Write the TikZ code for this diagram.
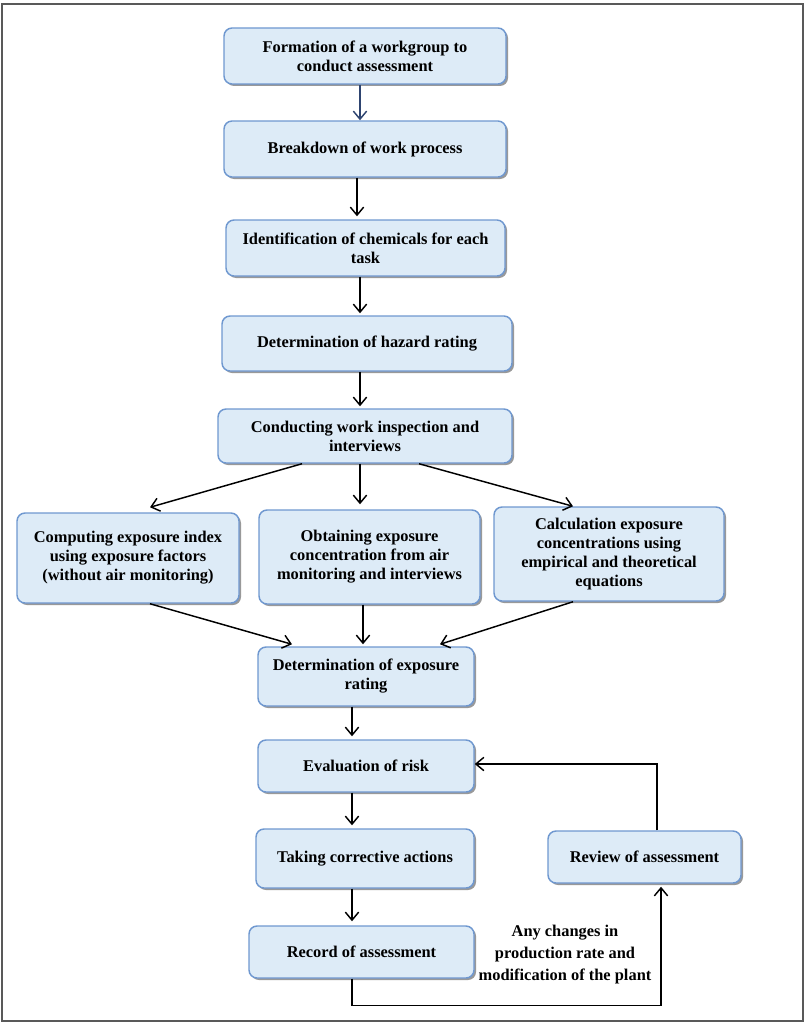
\documentclass[tikz,border=0pt]{standalone}
\usepackage{fontspec}
\setmainfont{Liberation Serif}
\usetikzlibrary{calc,shadows,arrows.meta}
\definecolor{boxfill}{HTML}{DDEBF7}
\definecolor{boxline}{HTML}{6F98D0}
\definecolor{navy}{HTML}{2E4470}
\begin{document}
\begin{tikzpicture}[x=0.75pt,y=-0.75pt,
  box/.style={draw=boxline, line width=1.1pt, fill=boxfill, rounded corners=6pt,
    align=center, inner sep=2pt,
    font=\fontsize{12.3}{14.25}\selectfont\bfseries,
    drop shadow={shadow xshift=1.5pt, shadow yshift=-1.5pt, opacity=0.4, fill=black}},
  arr/.style={line width=1.1pt, -{Straight Barb[length=6pt,width=10pt,line width=1.1pt]}},
  lbl/.style={align=center, font=\fontsize{12.3}{16.5}\selectfont\bfseries}]
\useasboundingbox (0,0) rectangle (807,1024);
\draw[gray!70!black, line width=1.5pt] (2,4) rectangle (803,1021);

\node[box, minimum width={282*0.75pt}, minimum height={56*0.75pt}] (n1) at (365,56) {Formation of a workgroup to\\conduct assessment};
\node[box, minimum width={282*0.75pt}, minimum height={56*0.75pt}] (n2) at (365,149) {Breakdown of work process};
\node[box, minimum width={279*0.75pt}, minimum height={56*0.75pt}] (n3) at (365.5,248) {Identification of chemicals for each\\task};
\node[box, minimum width={290*0.75pt}, minimum height={55*0.75pt}] (n4) at (367,343.5) {Determination of hazard rating};
\node[box, minimum width={294*0.75pt}, minimum height={54*0.75pt}] (n5) at (365,436) {Conducting work inspection and\\interviews};
\node[box, minimum width={222*0.75pt}, minimum height={90*0.75pt}] (n6) at (128,558) {Computing exposure index\\using exposure factors\\(without air monitoring)};
\node[box, minimum width={221*0.75pt}, minimum height={94*0.75pt}] (n7) at (369.5,557) {Obtaining exposure\\concentration from air\\monitoring and interviews};
\node[box, minimum width={230*0.75pt}, minimum height={94*0.75pt}] (n8) at (609,554) {Calculation exposure\\concentrations using\\empirical and theoretical\\equations};
\node[box, minimum width={216*0.75pt}, minimum height={59*0.75pt}] (n9) at (366,676.5) {Determination of exposure\\rating};
\node[box, minimum width={216*0.75pt}, minimum height={52*0.75pt}] (n10) at (366,766) {Evaluation of risk};
\node[box, minimum width={218*0.75pt}, minimum height={59*0.75pt}] (n11) at (365,858.5) {Taking corrective actions};
\node[box, minimum width={225*0.75pt}, minimum height={52*0.75pt}] (n12) at (361.5,952) {Record of assessment};
\node[box, minimum width={193*0.75pt}, minimum height={52*0.75pt}] (n13) at (644.5,857) {Review of assessment};

\node[lbl] (lab) at (565,955) {Any changes in\\production rate and\\modification of the plant};

\draw[arr, navy] ($(n1.south)+(-5,0)$) -- ($(n2.north)+(-5,0)$);
\draw[arr] ($(n2.south)+(-8,0)$) -- ($(n3.north)+(-8.5,-3)$);
\draw[arr] ($(n3.south)+(-5.5,0)$) -- ($(n4.north)+(-7,-2)$);
\draw[arr] ($(n4.south)+(-7,0)$) -- ($(n5.north)+(-5,-2)$);
\draw[arr] ($(n5.south)+(-63,0)$) -- ($(n6.north)+(22,-5)$);
\draw[arr] ($(n5.south)+(-5,0)$) -- ($(n7.north)+(-9.5,-5)$);
\draw[arr] ($(n5.south)+(54,0)$) -- ($(n8.north)+(-36,0)$);
\draw[arr] ($(n6.south)+(22,0)$) -- ($(n9.north)+(-74,-2)$);
\draw[arr] ($(n7.south)+(-6.5,0)$) -- ($(n9.north)+(-3,-2)$);
\draw[arr] ($(n8.south)+(-36,0)$) -- ($(n9.north)+(74,-2)$);
\draw[arr] ($(n9.south)+(-14,0)$) -- ($(n10.north)+(-14,-3)$);
\draw[arr] ($(n10.south)+(-14,0)$) -- ($(n11.north)+(-13,-3)$);
\draw[arr] ($(n11.south)+(-13,0)$) -- ($(n12.north)+(-9.5,-4)$);
\draw[arr] ($(n12.south)+(-9.5,0)$) -- ++(0,27) -| ($(n13.south)+(16.5,3)$);
\draw[arr] ($(n13.north)+(12.5,0)$) |- ($(n10.east)+(0,-2)$);
\end{tikzpicture}
\end{document}
